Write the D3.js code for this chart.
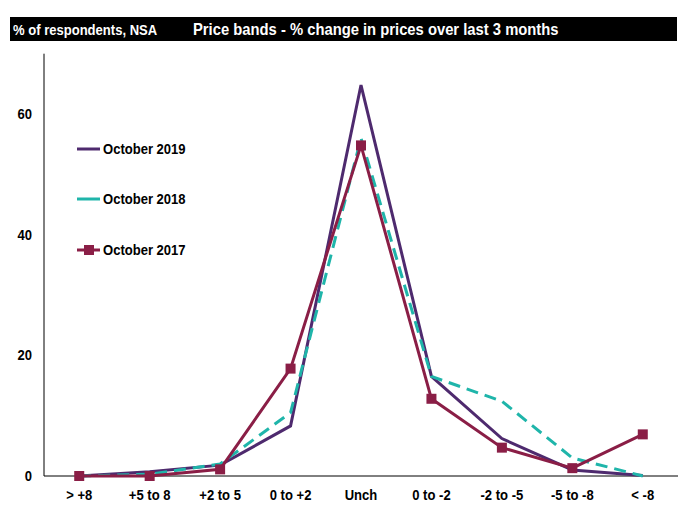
<!doctype html>
<html>
<head>
<meta charset="utf-8">
<style>
body { margin: 0; background: #fff; }
text { font-family: "Liberation Sans", Arial, sans-serif; font-weight: bold; }
</style>
<script src="https://d3js.org/d3.v7.min.js"></script>
</head>
<body>
<svg width="685" height="506"></svg>
<script>
var bands = ["> +8", "+5 to 8", "+2 to 5", "0 to +2", "Unch", "0 to -2", "-2 to -5", "-5 to -8", "< -8"];
var oct2019 = [0, 0.7, 1.8, 8.3, 64.8, 16.5, 6.2, 1.0, 0.1];
var oct2018 = [0, 0.3, 2.0, 10.5, 56.0, 16.5, 12.4, 3.0, 0];
var oct2017 = [0, 0, 1.1, 17.8, 54.8, 12.8, 4.7, 1.3, 6.9];
var yTicks = [0, 20, 40, 60];

var series = [
	{ name: "October 2019", values: oct2019, color: "#4e2a6e", dash: null, marker: false },
	{ name: "October 2018", values: oct2018, color: "#1fb5aa", dash: "12,7", marker: false },
	{ name: "October 2017", values: oct2017, color: "#8a1e46", dash: null, marker: true }
];

var svg = d3.select("svg");
var squeeze = 0.87;

// text drawn narrow, like the condensed font of the original
function label(x, y, str, size, anchor, fill) {
	return svg.append("text")
		.attr("transform", "translate(" + x + "," + y + ") scale(" + squeeze + ",1)")
		.attr("text-anchor", anchor || "start")
		.attr("font-size", size)
		.attr("fill", fill || "#000")
		.text(str);
}

// header bar
svg.append("rect").attr("x", 10).attr("y", 17).attr("width", 667).attr("height", 24).attr("fill", "#000");
label(13, 35, "% of respondents, NSA", "15px", "start", "#fff");
label(193, 35, "Price bands - % change in prices over last 3 months", "17px", "start", "#fff");

var x = d3.scalePoint().domain(bands).range([44, 678]).padding(0.5);
var y = d3.scaleLinear().domain([0, 70]).range([476, 53.7]);

// axes
svg.append("line").attr("x1", 44).attr("x2", 44).attr("y1", y(70)).attr("y2", y(0))
	.attr("stroke", "#000").attr("stroke-width", 1);
svg.append("line").attr("x1", 44).attr("x2", 678).attr("y1", y(0)).attr("y2", y(0))
	.attr("stroke", "#000").attr("stroke-width", 1);

yTicks.forEach(function(d) {
	label(32, y(d) + 5, d, "15px", "end");
});
bands.forEach(function(d) {
	label(x(d), 500, d, "15px", "middle");
});

var line = d3.line()
	.x(function(d, i) { return x(bands[i]); })
	.y(function(d) { return y(d); });

series.forEach(function(s) {
	svg.append("path").datum(s.values)
		.attr("d", line)
		.attr("fill", "none")
		.attr("stroke", s.color)
		.attr("stroke-width", 3)
		.attr("stroke-dasharray", s.dash);
	if (s.marker) {
		svg.selectAll(".mk").data(s.values).enter().append("rect")
			.attr("x", function(d, i) { return x(bands[i]) - 5; })
			.attr("y", function(d) { return y(d) - 5; })
			.attr("width", 10).attr("height", 10)
			.attr("fill", s.color);
	}
});

// legend
var legY = [149, 199, 250];
series.forEach(function(s, i) {
	svg.append("line").attr("x1", 77).attr("x2", 100).attr("y1", legY[i]).attr("y2", legY[i])
		.attr("stroke", s.color).attr("stroke-width", 3);
	if (s.marker) {
		svg.append("rect").attr("x", 84).attr("y", legY[i] - 5).attr("width", 10).attr("height", 10).attr("fill", s.color);
	}
	label(103, legY[i] + 5, s.name, "15px", "start");
});
</script>
</body>
</html>
